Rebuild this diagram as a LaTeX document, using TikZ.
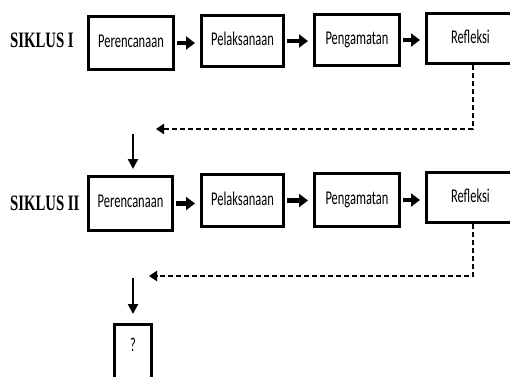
\documentclass[tikz,border=0pt]{standalone}
\usepackage{fontspec}
\usepackage{graphicx}
\usetikzlibrary{arrows.meta}
\newfontfamily\carlito{Carlito}
\newfontfamily\tnr{Liberation Serif}
\newcommand{\boxtxt}[1]{\raisebox{4pt}{\scalebox{0.64}[1]{\carlito\fontsize{19.5}{22}\selectfont #1}}}
\newcommand{\sikl}[1]{\scalebox{0.67}[1]{\tnr\bfseries\fontsize{22}{24}\selectfont #1}}
\tikzset{
  stepbox/.style={draw=black, line width=3pt, fill=white, inner sep=0pt, rectangle},
  flowarrow/.style={line width=4.5pt, -{Triangle[length=9pt,width=13pt]}, shorten <=2pt, shorten >=5pt},
  downarrow/.style={line width=2.2pt, -{Triangle[length=10pt,width=10pt]}},
  backline/.style={line width=2pt, dash pattern=on 5pt off 3pt, -{Triangle[length=8pt,width=10pt]}},
  cyclelbl/.style={anchor=west, inner sep=0pt}
}
\begin{document}
\begin{tikzpicture}[x=1pt, y=-1pt]
\clip (0,0) rectangle (510,376);
\fill[white] (0,0) rectangle (510,376);
% row 1
\node[cyclelbl] (s1) at (10,40) {\sikl{SIKLUS I}};
\node[stepbox, minimum width=85pt, minimum height=53pt] (p1) at (131,43) {\boxtxt{Perencanaan}};
\node[stepbox, minimum width=82pt, minimum height=51pt] (l1) at (242.5,41) {\boxtxt{Pelaksanaan}};
\node[stepbox, minimum width=85pt, minimum height=51pt] (g1) at (357,40) {\boxtxt{Pengamatan}};
\node[stepbox, minimum width=93pt, minimum height=50pt] (r1) at (473,38.5) {\boxtxt{\hspace*{-8pt}Refleksi}};
\draw[flowarrow] (p1.east) -- (p1.east -| l1.west);
\draw[flowarrow] (l1.east) -- (l1.east -| g1.west);
\draw[flowarrow] (g1.east) -- (g1.east -| r1.west);
% back loop 1
\coordinate (d1) at (473,129);
\coordinate (e1) at (156,129);
\draw[backline] (r1.south) -- (d1) -- (e1);
\coordinate (a1) at (133,134);
% row 2
\node[cyclelbl] (s2) at (10,203) {\sikl{SIKLUS II}};
\node[stepbox, minimum width=84pt, minimum height=54pt] (p2) at (130.5,203.5) {\boxtxt{Perencanaan}};
\node[stepbox, minimum width=82pt, minimum height=52pt] (l2) at (242.5,200.5) {\boxtxt{Pelaksanaan}};
\node[stepbox, minimum width=85pt, minimum height=53pt] (g2) at (357,200) {\boxtxt{Pengamatan}};
\node[stepbox, minimum width=93pt, minimum height=50pt] (r2) at (473,197.5) {\boxtxt{\hspace*{-8pt}Refleksi}};
\draw[downarrow, shorten >=6pt] (a1) -- (a1 |- p2.north);
\draw[flowarrow] (p2.east) -- (p2.east -| l2.west);
\draw[flowarrow] (l2.east) -- (l2.east -| g2.west);
\draw[flowarrow] (g2.east) -- (g2.east -| r2.west);
% back loop 2
\coordinate (d2) at (473,276);
\coordinate (e2) at (149,276);
\draw[backline] (r2.south) -- (d2) -- (e2);
\coordinate (a2) at (133,278);
% final box
\node[stepbox, minimum width=37pt, minimum height=60pt] (q) at (133,354.5) {\raisebox{19pt}{\scalebox{0.64}[1]{\carlito\fontsize{19.5}{22}\selectfont ?}}};
\draw[downarrow, shorten >=9pt] (a2) -- (a2 |- q.north);
\end{tikzpicture}
\end{document}
